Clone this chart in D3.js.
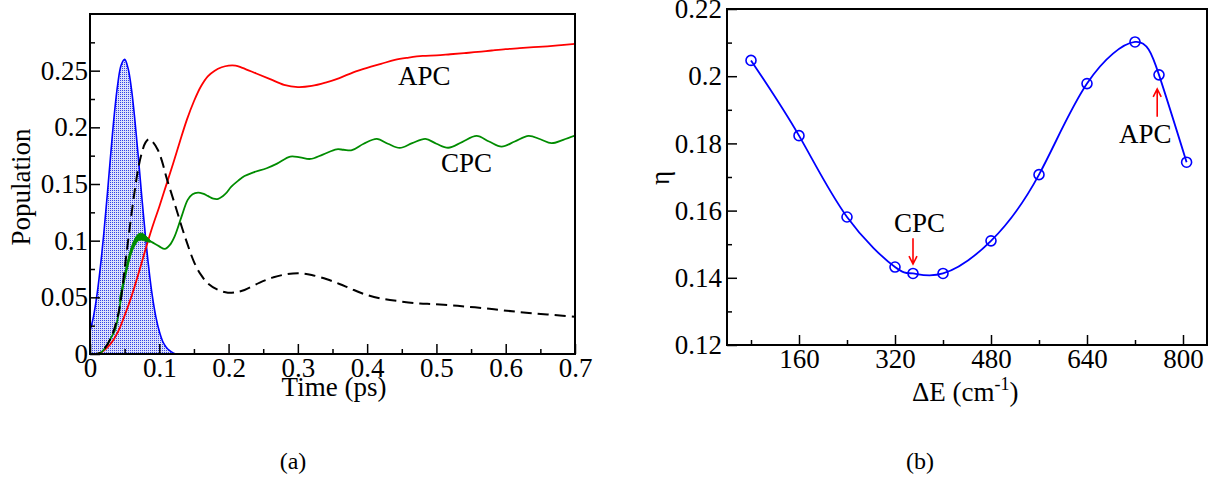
<!DOCTYPE html>
<html>
<head>
<meta charset="utf-8">
<script src="https://cdn.jsdelivr.net/npm/d3@7/dist/d3.min.js"></script>
<style>
  html, body { margin: 0; padding: 0; background: #fff; }
  svg { display: block; }
  text { font-family: "Liberation Serif", "Times New Roman", serif; fill: #000; }
</style>
</head>
<body>
<svg id="chart" width="1219" height="477"></svg>
<script>
// ---------------- Data: panel (a) ----------------
const pulseT = [0, 0.005, 0.01, 0.015, 0.02, 0.025, 0.03, 0.035, 0.04, 0.045, 0.05, 0.055, 0.06, 0.065, 0.07, 0.075, 0.08, 0.085, 0.09, 0.095, 0.1, 0.105, 0.11, 0.115, 0.12, 0.125, 0.13];
const pulseV = [0.020, 0.033, 0.052, 0.077, 0.107, 0.141, 0.177, 0.211, 0.238, 0.255, 0.260, 0.252, 0.233, 0.205, 0.172, 0.137, 0.104, 0.075, 0.051, 0.033, 0.020, 0.011, 0.006, 0.003, 0.001, 0, 0];

const apcT = [0, 0.01, 0.015, 0.02, 0.03, 0.04, 0.05, 0.06, 0.07, 0.08, 0.09, 0.1, 0.11, 0.12, 0.13, 0.14, 0.15, 0.16, 0.17, 0.18, 0.19, 0.2, 0.21, 0.22, 0.24, 0.26, 0.28, 0.3, 0.32, 0.34, 0.36, 0.38, 0.4, 0.42, 0.44, 0.46, 0.48, 0.5, 0.52, 0.54, 0.56, 0.58, 0.6, 0.62, 0.64, 0.66, 0.68, 0.7];
const apcV = [0, 0, 0.001, 0.003, 0.009, 0.019, 0.034, 0.051, 0.071, 0.092, 0.112, 0.130, 0.149, 0.168, 0.188, 0.207, 0.223, 0.236, 0.245, 0.250, 0.253, 0.2545, 0.2545, 0.2525, 0.2475, 0.2425, 0.2375, 0.2355, 0.2365, 0.2395, 0.2435, 0.2485, 0.2525, 0.256, 0.2595, 0.2615, 0.263, 0.2635, 0.2645, 0.2655, 0.2665, 0.2678, 0.269, 0.2698, 0.2707, 0.2715, 0.2725, 0.2736];

const cpcT = [0, 0.01, 0.015, 0.02, 0.026, 0.03, 0.036, 0.04, 0.045, 0.05, 0.055, 0.06, 0.065, 0.07, 0.075, 0.08, 0.09, 0.1, 0.108, 0.115, 0.122, 0.132, 0.141, 0.148, 0.156, 0.163, 0.17, 0.178, 0.185, 0.195, 0.204, 0.214, 0.223, 0.236, 0.255, 0.27, 0.289, 0.303, 0.318, 0.336, 0.356, 0.366, 0.378, 0.395, 0.414, 0.43, 0.447, 0.465, 0.484, 0.5, 0.517, 0.537, 0.558, 0.576, 0.594, 0.613, 0.633, 0.65, 0.666, 0.683, 0.7];
const cpcV = [0, 0, 0.001, 0.004, 0.0094, 0.014, 0.021, 0.031, 0.050, 0.068, 0.081, 0.092, 0.099, 0.103, 0.1035, 0.102, 0.0985, 0.095, 0.0927, 0.096, 0.1036, 0.121, 0.136, 0.141, 0.1424, 0.1415, 0.1395, 0.137, 0.1368, 0.141, 0.1477, 0.153, 0.157, 0.1603, 0.1639, 0.168, 0.1742, 0.1735, 0.1721, 0.176, 0.1806, 0.1802, 0.1798, 0.1855, 0.1898, 0.1855, 0.1818, 0.186, 0.1898, 0.1855, 0.182, 0.187, 0.1924, 0.1875, 0.183, 0.1875, 0.1924, 0.1895, 0.186, 0.189, 0.1927];

// thick, rapidly oscillating part of the CPC curve (envelope)
const cpcBandT  = [0.043, 0.05, 0.055, 0.06, 0.065, 0.07, 0.075, 0.08, 0.087];
const cpcBandLo = [0.046, 0.065, 0.078, 0.089, 0.096, 0.100, 0.1005, 0.0995, 0.0985];
const cpcBandHi = [0.050, 0.071, 0.084, 0.095, 0.102, 0.106, 0.1065, 0.1045, 0.100];

const darkT = [0, 0.01, 0.015, 0.02, 0.03, 0.04, 0.045, 0.05, 0.055, 0.06, 0.065, 0.07, 0.075, 0.08, 0.085, 0.09, 0.098, 0.104, 0.11, 0.122, 0.137, 0.151, 0.16, 0.17, 0.185, 0.199, 0.21, 0.223, 0.245, 0.265, 0.285, 0.303, 0.32, 0.342, 0.36, 0.375, 0.395, 0.419, 0.447, 0.476, 0.495, 0.52, 0.544, 0.57, 0.592, 0.615, 0.64, 0.67, 0.7];
const darkV = [0, 0, 0.001, 0.004, 0.014, 0.033, 0.050, 0.075, 0.100, 0.124, 0.146, 0.165, 0.178, 0.1865, 0.1895, 0.1875, 0.180, 0.170, 0.1565, 0.133, 0.1036, 0.080, 0.070, 0.0624, 0.0565, 0.0541, 0.0545, 0.0565, 0.063, 0.0677, 0.0705, 0.0712, 0.0697, 0.0659, 0.0618, 0.058, 0.053, 0.0491, 0.0465, 0.0445, 0.0441, 0.043, 0.0418, 0.0403, 0.0388, 0.0373, 0.0359, 0.0344, 0.0329];

const aXTicks = [0, 0.1, 0.2, 0.3, 0.4, 0.5, 0.6, 0.7];
const aXMinor = [0.05, 0.15, 0.25, 0.35, 0.45, 0.55, 0.65];
const aYTicks = [0, 0.05, 0.1, 0.15, 0.2, 0.25];
const aYMinor = [0.025, 0.075, 0.125, 0.175, 0.225, 0.275];

// ---------------- Data: panel (b) ----------------
const dE  = [80, 160, 240, 320, 350, 400, 480, 560, 640, 720, 760, 806];
const eta = [0.2047, 0.1823, 0.1581, 0.1432, 0.1413, 0.1413, 0.1510, 0.1707, 0.1978, 0.2102, 0.2004, 0.1744];

const bXTicks = [160, 320, 480, 640, 800];
const bXMinor = [80, 240, 400, 560, 720];
const bYTicks = [0.12, 0.14, 0.16, 0.18, 0.2, 0.22];
const bYMinor = [0.13, 0.15, 0.17, 0.19, 0.21];

// ---------------- Drawing ----------------
const svg = d3.select("#chart");
const fmt = d3.format("~g");
const FS = 27;

const defs = svg.append("defs");
const pat = defs.append("pattern").attr("id", "dots")
  .attr("width", 2).attr("height", 2).attr("patternUnits", "userSpaceOnUse");
pat.append("rect").attr("width", 2).attr("height", 2).attr("fill", "#dcdffa");
pat.append("rect").attr("width", 1).attr("height", 1).attr("fill", "#3442e6");

function axes(g, x, y, xt, xm, yt, ym, ypad) {
  const [x0, x1] = x.range(), [y0, y1] = y.range();
  const bottom = g.append("g").attr("transform", `translate(0,${y0})`)
    .call(d3.axisBottom(x).tickValues(xt).tickFormat(fmt).tickSize(-10).tickPadding(4));
  const bottomM = g.append("g").attr("transform", `translate(0,${y0})`)
    .call(d3.axisBottom(x).tickValues(xm).tickFormat("").tickSize(-5));
  const left = g.append("g").attr("transform", `translate(${x0},0)`)
    .call(d3.axisLeft(y).tickValues(yt).tickFormat(fmt).tickSize(-10).tickPadding(ypad));
  const leftM = g.append("g").attr("transform", `translate(${x0},0)`)
    .call(d3.axisLeft(y).tickValues(ym).tickFormat("").tickSize(-5));
  [bottom, bottomM, left, leftM].forEach(a => {
    a.attr("font-family", null).attr("font-size", null);
    a.select(".domain").remove();
    a.selectAll("line").attr("stroke", "#000").attr("stroke-width", 1.5);
    a.selectAll("text").style("font-family", "'Liberation Serif', serif").style("font-size", FS + "px").attr("fill", "#000");
  });
  g.append("rect").attr("x", x0).attr("y", y1).attr("width", x1 - x0).attr("height", y0 - y1)
    .attr("fill", "none").attr("stroke", "#000").attr("stroke-width", 2);
}

// ---- panel (a)
const xA = d3.scaleLinear([0, 0.7], [90, 575]);
const yA = d3.scaleLinear([0, 0.3], [354, 14]);
const gA = svg.append("g");
defs.append("clipPath").attr("id", "clipA").append("rect")
  .attr("x", 90).attr("y", 14).attr("width", 485).attr("height", 340);
const plotA = gA.append("g").attr("clip-path", "url(#clipA)");

const pulse = pulseT.map((t, i) => [t, pulseV[i]]);
plotA.append("path").datum(pulse)
  .attr("d", d3.area().x(d => xA(d[0])).y0(yA(0)).y1(d => yA(d[1])).curve(d3.curveCatmullRom))
  .attr("fill", "url(#dots)");
plotA.append("path").datum(pulse)
  .attr("d", d3.line().x(d => xA(d[0])).y(d => yA(d[1])).curve(d3.curveCatmullRom))
  .attr("fill", "none").attr("stroke", "#0000ff").attr("stroke-width", 1.6);

const lineA = d3.line().x(d => xA(d[0])).y(d => yA(d[1])).curve(d3.curveCatmullRom);
plotA.append("path").datum(apcT.map((t, i) => [t, apcV[i]]))
  .attr("d", lineA).attr("fill", "none").attr("stroke", "#ff0000").attr("stroke-width", 1.8);
plotA.append("path").datum(cpcT.map((t, i) => [t, cpcV[i]]))
  .attr("d", lineA).attr("fill", "none").attr("stroke", "#008c00").attr("stroke-width", 1.8);
plotA.append("path").datum(cpcBandT.map((t, i) => [t, cpcBandLo[i], cpcBandHi[i]]))
  .attr("d", d3.area().x(d => xA(d[0])).y0(d => yA(d[1])).y1(d => yA(d[2])).curve(d3.curveCatmullRom))
  .attr("fill", "#008c00").attr("stroke", "#008c00").attr("stroke-width", 1);
plotA.append("path").datum(darkT.map((t, i) => [t, darkV[i]]))
  .attr("d", lineA).attr("fill", "none").attr("stroke", "#000").attr("stroke-width", 2)
  .attr("stroke-dasharray", "11,6");

axes(gA, xA, yA, aXTicks, aXMinor, aYTicks, aYMinor, 2);

gA.append("text").attr("x", 398).attr("y", 85).attr("font-size", FS).text("APC");
gA.append("text").attr("x", 441).attr("y", 172).attr("font-size", FS).text("CPC");
gA.append("text").attr("x", 334).attr("y", 396).attr("text-anchor", "middle").attr("font-size", FS).text("Time (ps)");
gA.append("text").attr("transform", "translate(30,187) rotate(-90)").attr("text-anchor", "middle")
  .attr("font-size", FS).text("Population");
svg.append("text").attr("x", 293).attr("y", 469).attr("text-anchor", "middle").attr("font-size", 24).text("(a)");

// ---- panel (b)
const xB = d3.scaleLinear([40, 840], [727, 1207]);
const yB = d3.scaleLinear([0.12, 0.22], [345, 9]);
const gB = svg.append("g");
const pts = dE.map((x, i) => [x, eta[i]]);
gB.append("path").datum(pts)
  .attr("d", d3.line().x(d => xB(d[0])).y(d => yB(d[1])).curve(d3.curveNatural))
  .attr("fill", "none").attr("stroke", "#0000ff").attr("stroke-width", 1.8);
gB.selectAll("circle.pt").data(pts).join("circle").attr("class", "pt")
  .attr("cx", d => xB(d[0])).attr("cy", d => yB(d[1])).attr("r", 5)
  .attr("fill", "none").attr("stroke", "#0000ff").attr("stroke-width", 1.6);

axes(gB, xB, yB, bXTicks, bXMinor, bYTicks, bYMinor, 5);

function arrow(g, x, yTail, yTip) {
  const X = xB(x), T = yB(yTail), P = yB(yTip);
  const dir = P > T ? 1 : -1;
  g.append("path").attr("d", `M${X},${T}L${X},${P}M${X - 4},${P - dir * 8}L${X},${P}L${X + 4},${P - dir * 8}`)
    .attr("fill", "none").attr("stroke", "#ff0000").attr("stroke-width", 1.6);
}
arrow(gB, 350, 0.1518, 0.1441);
arrow(gB, 757, 0.1879, 0.1962);
gB.append("text").attr("x", 894).attr("y", 232).attr("font-size", FS).text("CPC");
gB.append("text").attr("x", 1119).attr("y", 143).attr("font-size", FS).text("APC");

const xl = gB.append("text").attr("x", 912).attr("y", 401).attr("font-size", FS);
xl.append("tspan").text("ΔE (cm");
xl.append("tspan").attr("dy", -11).attr("font-size", 18).text("-1");
xl.append("tspan").attr("dy", 11).text(")");
gB.append("text").attr("transform", "translate(669,178) rotate(-90)").attr("text-anchor", "middle")
  .attr("font-size", FS).text("η");
svg.append("text").attr("x", 920).attr("y", 469).attr("text-anchor", "middle").attr("font-size", 24).text("(b)");
</script>
</body>
</html>
